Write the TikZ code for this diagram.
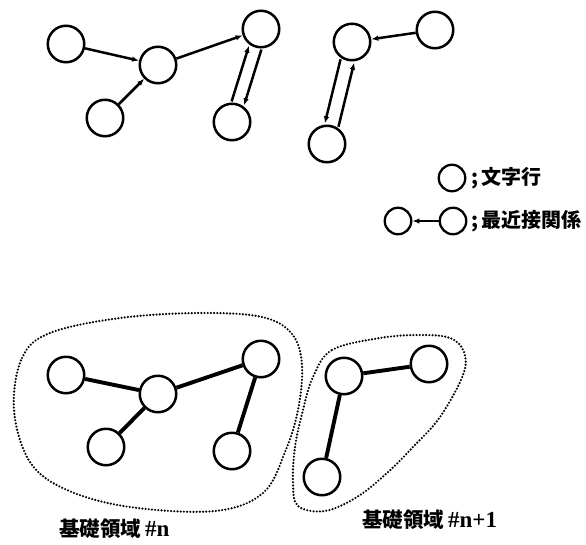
\documentclass[tikz,border=0pt]{standalone}
\usepackage{fontspec}
\newfontfamily\jpfont{Noto Sans CJK JP}
\newfontfamily\numfont{Liberation Serif}
\usetikzlibrary{arrows.meta}
\begin{document}
\begin{tikzpicture}[x=1pt,y=-1pt,
  line/.style={circle,draw,line width=2.5pt,minimum size=36.5pt,inner sep=0pt},
  legline/.style={circle,draw,line width=2.3pt,minimum size=26.5pt,inner sep=0pt},
  nearest/.style={line width=2.5pt,-{Latex[length=7pt,width=5.5pt]}},
  link/.style={line width=3.9pt},
  region/.style={line width=2.4pt,line cap=round,dash pattern=on 0pt off 3.2pt},
  legendtext/.style={font=\jpfont\bfseries\fontsize{20}{22}\selectfont,inner sep=0pt,anchor=west},
  regionname/.style={inner sep=0pt,anchor=west},
]
\useasboundingbox (0,0) rectangle (586,544);

% ---- nearest-neighbour relations between text lines ----
\node[line] (A) at (66,44) {};
\node[line] (B) at (158,65) {};
\node[line] (C) at (105,118) {};
\node[line] (D) at (261,29) {};
\node[line] (E) at (232,122) {};
\node[line] (F) at (352,42) {};
\node[line] (G) at (435,30) {};
\node[line] (H) at (327,144) {};

\draw[nearest] (A) -- (B);
\draw[nearest] (C) -- (B);
\draw[nearest] (B) -- (D);
\draw[nearest,transform canvas={xshift=-6.2pt,yshift=1.96pt}] (E) -- (D);
\draw[nearest,transform canvas={xshift=6.2pt,yshift=-1.96pt}] (D) -- (E);
\draw[nearest] (G) -- (F);
\draw[nearest,transform canvas={xshift=-6.8pt,yshift=1.67pt}] (F) -- (H);
\draw[nearest,transform canvas={xshift=6.8pt,yshift=-1.67pt}] (H) -- (F);

% ---- legend ----
\node[legline] (L1) at (452,178) {};
\node[legendtext] (T1) at (471,178) {;\hspace{3pt}文字行};
\node[legline] (L2) at (398,221) {};
\node[legline] (L3) at (453,221) {};
\draw[line width=2.3pt,-{Latex[length=7pt,width=5.5pt]}] (L3) -- (L2);
\node[legendtext] (T2) at (471,221) {;\hspace{3pt}最近接関係};

% ---- basic regions ----
\node[line] (I) at (66,375) {};
\node[line] (J) at (158,394) {};
\node[line] (K) at (106,447) {};
\node[line] (Lr) at (261,359) {};
\node[line] (M) at (232,451) {};
\node[line] (N) at (344,376) {};
\node[line] (O) at (429,364) {};
\node[line] (P) at (322,477) {};

\draw[link] (I) -- (J);
\draw[link] (K) -- (J);
\draw[link] (J) -- (Lr);
\draw[link] (Lr) -- (M);
\draw[link] (N) -- (O);
\draw[link] (N) -- (P);

\draw[region] plot[smooth cycle,tension=0.6] coordinates {
  (14,410) (22,358) (50,333) (120,318) (200,313) (262,317) (292,334)
  (302,365) (298,410) (285,452) (263,493) (215,511) (130,507) (67,490) (30,462)};
\draw[region] plot[smooth cycle,tension=0.6] coordinates {
  (313,377) (332,350) (380,338) (420,335) (450,338) (464,352) (463,375)
  (440,417) (413,447) (387,473) (357,497) (325,511) (298,506) (293,483)
  (295,447) (303,410)};

\node[regionname] (R1) at (59,529)
  {\fontsize{20.5}{24}\selectfont\jpfont\bfseries 基礎領域\hspace{4pt}{\numfont\bfseries\fontsize{23}{24}\selectfont\#n}};
\node[regionname] (R2) at (362,520)
  {\fontsize{20.5}{24}\selectfont\jpfont\bfseries 基礎領域\hspace{4pt}{\numfont\bfseries\fontsize{23}{24}\selectfont\#n+1}};
\end{tikzpicture}
\end{document}
